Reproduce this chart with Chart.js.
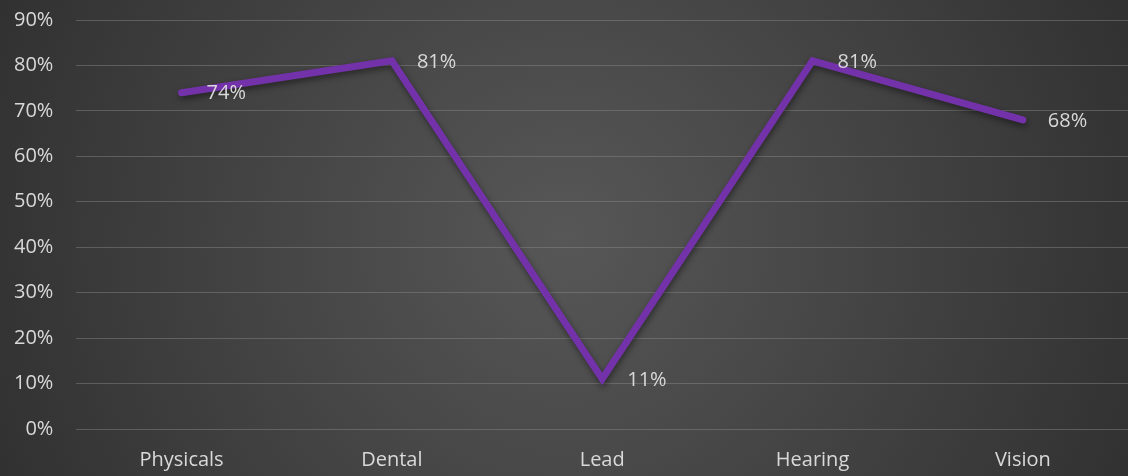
<!DOCTYPE html>
<html>
<head>
<meta charset="utf-8">
<script src="https://cdn.jsdelivr.net/npm/chart.js@4/dist/chart.umd.min.js"></script>
<style>
  html, body { margin: 0; padding: 0; background: #333; }
  #wrap { position: relative; width: 1128px; height: 476px; }
</style>
</head>
<body>
<div id="wrap"><canvas id="c" width="1128" height="476"></canvas></div>
<script>
const categories = ['Physicals', 'Dental', 'Lead', 'Hearing', 'Vision'];
const rates = [0.74, 0.81, 0.11, 0.81, 0.68];
const rateLabels = ['74%', '81%', '11%', '81%', '68%'];

const FONT = '"Open Sans", "Noto Sans", sans-serif';
const TEXT = '#d9d9d9';

// dark radial backdrop behind the whole canvas
const backdrop = {
  id: 'backdrop',
  beforeDraw(chart) {
    const { ctx, width, height } = chart;
    const g = ctx.createRadialGradient(width / 2, height / 2, 0, width / 2, height / 2, width * 0.6);
    g.addColorStop(0, '#575757');
    g.addColorStop(1, '#2d2d2d');
    ctx.save();
    ctx.fillStyle = g;
    ctx.fillRect(0, 0, width, height);
    ctx.restore();
  }
};

// soft drop shadow under the line
const lineShadow = {
  id: 'lineShadow',
  beforeDatasetDraw(chart) {
    const ctx = chart.ctx;
    ctx.save();
    ctx.shadowColor = 'rgba(0,0,0,0.45)';
    ctx.shadowBlur = 6;
    ctx.shadowOffsetX = 1;
    ctx.shadowOffsetY = 3;
  },
  afterDatasetDraw(chart) {
    chart.ctx.restore();
  }
};

// value labels to the right of each point
const valueLabels = {
  id: 'valueLabels',
  afterDatasetsDraw(chart) {
    const ctx = chart.ctx;
    const meta = chart.getDatasetMeta(0);
    ctx.save();
    ctx.font = '20px ' + FONT;
    ctx.fillStyle = TEXT;
    ctx.textAlign = 'left';
    ctx.textBaseline = 'middle';
    meta.data.forEach((pt, i) => {
      ctx.fillText(rateLabels[i], pt.x + 25, pt.y + 1);
    });
    ctx.restore();
  }
};

new Chart(document.getElementById('c'), {
  type: 'line',
  data: {
    labels: categories,
    datasets: [{
      data: rates,
      borderColor: '#7432aa',
      borderWidth: 7,
      borderCapStyle: 'round',
      borderJoinStyle: 'miter',
      pointRadius: 0,
      pointHoverRadius: 0,
      tension: 0
    }]
  },
  options: {
    responsive: false,
    animation: false,
    events: [],
    layout: { padding: { top: 20, right: 0, left: 14, bottom: 4 } },
    plugins: { legend: { display: false }, tooltip: { enabled: false } },
    scales: {
      x: {
        offset: true,
        grid: { display: false, drawTicks: false },
        border: { display: false },
        ticks: { color: TEXT, font: { family: FONT, size: 20 }, padding: 19 },
        afterFit(scale) { scale.height = 43; }
      },
      y: {
        min: 0,
        max: 0.9,
        grid: {
          color: 'rgba(140,140,140,0.45)',
          lineWidth: 1,
          drawTicks: true,
          tickLength: 23,
          tickColor: 'rgba(0,0,0,0)'
        },
        border: { display: false },
        ticks: {
          stepSize: 0.1,
          color: TEXT,
          font: { family: FONT, size: 20 },
          padding: 0,
          callback: v => Math.round(v * 100) + '%'
        }
      }
    }
  },
  plugins: [backdrop, lineShadow, valueLabels]
});
</script>
</body>
</html>
